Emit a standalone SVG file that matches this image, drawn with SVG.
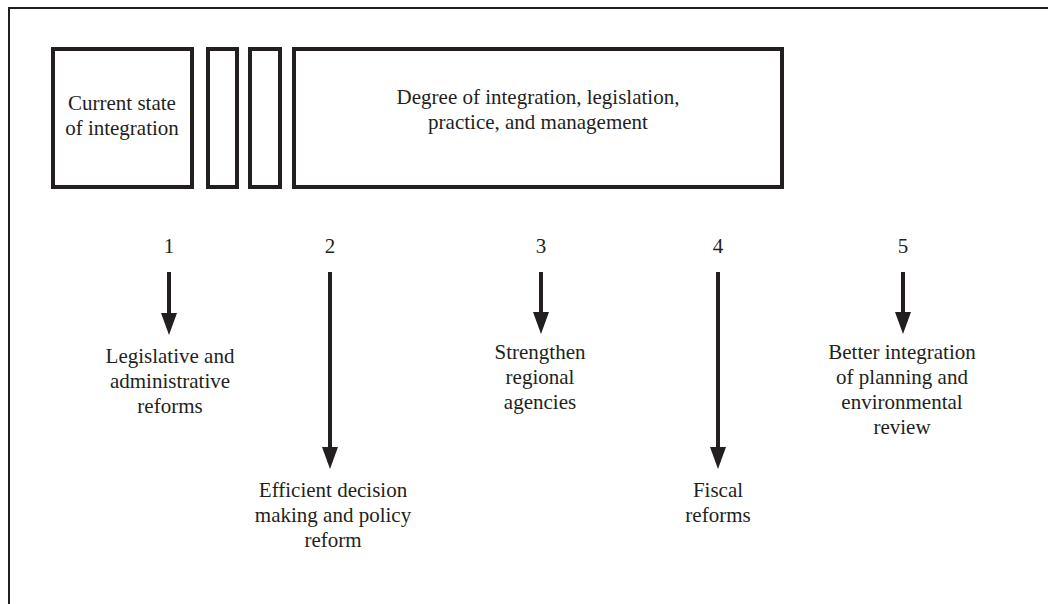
<svg xmlns="http://www.w3.org/2000/svg" width="1048" height="604" viewBox="0 0 1048 604">
<style>
.box{fill:#fff;stroke:#231f20;stroke-width:4}
.frame{fill:none;stroke:#231f20;stroke-width:2}
text{font-family:"Liberation Serif","Times New Roman",serif;font-size:21px;fill:#231f20;text-anchor:middle}
.arr{stroke:#231f20;stroke-width:4;fill:none;marker-end:url(#ah)}
</style>
<defs>
<marker id="ah" markerUnits="userSpaceOnUse" markerWidth="22" markerHeight="16" viewBox="0 0 22 16" refX="12" refY="8" orient="auto">
<path d="M0,0 L22,8 L0,16 z" fill="#231f20"/>
</marker>
</defs>
<rect width="1048" height="604" fill="#fff"/>
<path class="frame" d="M9,604 L9,8 L1048,8"/>
<g id="n-current">
<rect class="box" x="53" y="49" width="139" height="138"/>
<text x="122" y="110">Current state</text>
<text x="122" y="135">of integration</text>
</g>
<g id="n-bar1"><rect class="box" x="208" y="49" width="29" height="138"/></g>
<g id="n-bar2"><rect class="box" x="250" y="49" width="30" height="138"/></g>
<g id="n-degree">
<rect class="box" x="294" y="49" width="488" height="138"/>
<text x="538" y="104">Degree of integration, legislation,</text>
<text x="538" y="129">practice, and management</text>
</g>
<g id="connectors">
<line class="arr" x1="169" y1="272" x2="169" y2="325"/>
<line class="arr" x1="330" y1="272" x2="330" y2="459"/>
<line class="arr" x1="541" y1="272" x2="541" y2="324"/>
<line class="arr" x1="718" y1="272" x2="718" y2="459"/>
<line class="arr" x1="903" y1="272" x2="903" y2="324"/>
</g>
<g id="s1">
<text x="169" y="253">1</text>
<text x="170" y="363">Legislative and</text>
<text x="170" y="388">administrative</text>
<text x="170" y="413">reforms</text>
</g>
<g id="s2">
<text x="330" y="253">2</text>
<text x="333" y="497">Efficient decision</text>
<text x="333" y="522">making and policy</text>
<text x="333" y="547">reform</text>
</g>
<g id="s3">
<text x="541" y="253">3</text>
<text x="540" y="359">Strengthen</text>
<text x="540" y="384">regional</text>
<text x="540" y="409">agencies</text>
</g>
<g id="s4">
<text x="718" y="253">4</text>
<text x="718" y="497">Fiscal</text>
<text x="718" y="522">reforms</text>
</g>
<g id="s5">
<text x="903" y="253">5</text>
<text x="902" y="359">Better integration</text>
<text x="902" y="384">of planning and</text>
<text x="902" y="409">environmental</text>
<text x="902" y="434">review</text>
</g>
</svg>
